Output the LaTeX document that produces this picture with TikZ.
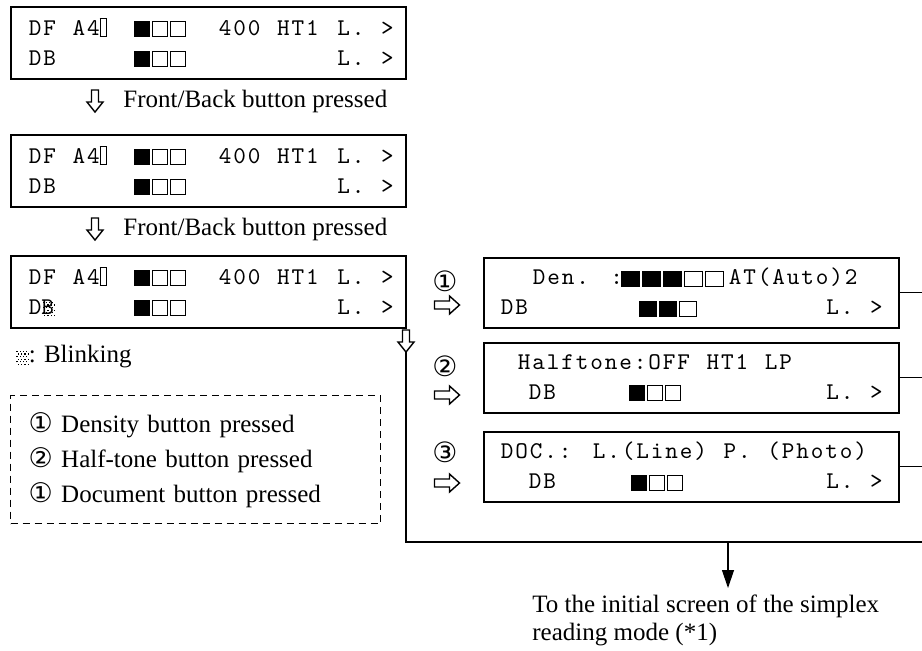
\documentclass[tikz,border=0pt]{standalone}
\usepackage{fontspec}
\setmainfont{Liberation Serif}
\newfontfamily\lcdfont{lmmono10-regular.otf}[LetterSpace=7.9,WordSpace=1.15]
\newfontfamily\symfont{DejaVu Sans}
\usetikzlibrary{arrows.meta,positioning}
\newcommand{\bsq}[1][9pt]{\rule[-1.2pt]{\dimexpr#1-1pt\relax}{8.2pt}\hspace{1pt}}
\newcommand{\wsq}[1][9pt]{{\setlength{\fboxsep}{0pt}\setlength{\fboxrule}{0.6pt}\fbox{\rule[-0.6pt]{0pt}{7pt}\hspace{\dimexpr#1-2.2pt\relax}}}\hspace{1pt}}
\newcommand{\tsq}{{\setlength{\fboxsep}{0pt}\setlength{\fboxrule}{0.6pt}\fbox{\rule[-0.6pt]{0pt}{8.4pt}\hspace{2.6pt}}}}
\newcommand{\dotrow}[1]{\hbox{\hskip#1\rule{0.6pt}{0.6pt}\hskip1pt\rule{0.6pt}{0.6pt}\hskip1pt\rule{0.6pt}{0.6pt}\hskip1pt\rule{0.6pt}{0.6pt}}}
\newcommand{\stip}{\raisebox{-1pt}{\vbox{\offinterlineskip\dotrow{0pt}\vskip0.7pt\dotrow{0.8pt}\vskip0.7pt\dotrow{0pt}\vskip0.7pt\dotrow{0.8pt}\vskip0.7pt\dotrow{0pt}\vskip0.7pt\dotrow{0.8pt}}}}
\newcommand{\blinkB}{\makebox[0pt][l]{B}\hskip0.6pt\stip}
\newcommand{\cnum}[1]{{\symfont\fontsize{13.5}{10}\selectfont#1}}
\newcommand{\lrow}[1]{\hbox to 197.5pt{#1}}
\newcommand{\rrow}[1]{\hbox to 207.5pt{#1}}
\tikzset{hdown/.pic={\draw[line width=0.7pt,line join=miter,fill=white] (-3.5,-11) -- (3.5,-11) -- (3.5,1) -- (8,1) -- (0,11) -- (-8,1) -- (-3.5,1) -- cycle;
           \coordinate (-tip) at (0,11);},
         hright/.pic={\draw[line width=0.7pt,line join=miter] (-12.5,-4) -- (2.5,-4) -- (2.5,-9) -- (12.5,0) -- (2.5,9) -- (2.5,4) -- (-12.5,4) -- cycle;}}

\begin{document}
\begin{tikzpicture}[x=0.5pt,y=-0.5pt,scr/.style={draw,line width=0.8pt,anchor=north west,inner sep=0pt,minimum height=36pt,align=left,font=\lcdfont\fontsize{12}{15}\selectfont},lbl/.style={inner sep=0pt,font=\fontsize{12.5}{14}\selectfont},link/.style={line width=0.6pt},arr/.style={link,-{Triangle[length=9pt,width=6pt]}}]
\useasboundingbox (0,0) rectangle (922,650);
\node[scr] (scr1) at (10,6) {%
  \lrow{\hskip9pt\makebox[52.5pt][l]{DF A4\tsq}\makebox[42.5pt][l]{\bsq\wsq\wsq}400 HT1\hfill L. >\hskip6pt}\\
  \lrow{\hskip9pt\makebox[52.5pt][l]{DB}\makebox[42.5pt][l]{\bsq\wsq\wsq}\hfill L. >\hskip6pt}};
\pic at (95,101) {hdown};
\node[lbl,anchor=west] (fb1) at (123,101) {Front/Back button pressed};
\node[scr] (scr2) at (10,134) {%
  \lrow{\hskip9pt\makebox[52.5pt][l]{DF A4\tsq}\makebox[42.5pt][l]{\bsq\wsq\wsq}400 HT1\hfill L. >\hskip6pt}\\
  \lrow{\hskip9pt\makebox[52.5pt][l]{DB}\makebox[42.5pt][l]{\bsq\wsq\wsq}\hfill L. >\hskip6pt}};
\pic at (95,229) {hdown};
\node[lbl,anchor=west] (fb2) at (123,229) {Front/Back button pressed};
\node[scr] (scr3) at (10,255) {%
  \lrow{\hskip9pt\makebox[52.5pt][l]{DF A4\tsq}\makebox[42.5pt][l]{\bsq\wsq\wsq}400 HT1\hfill L. >\hskip6pt}\\
  \lrow{\hskip9pt\makebox[52.5pt][l]{D\blinkB}\makebox[42.5pt][l]{\bsq\wsq\wsq}\hfill L. >\hskip6pt}};
\node[lbl,anchor=west] (blink) at (16,357) {\stip: Blinking};
\node[draw,dash pattern=on 3.5pt off 2.5pt,line width=0.7pt,anchor=north west,text width=167pt,minimum height=64pt,inner xsep=9pt,align=left,font=\fontsize{12.5}{17.5}\selectfont] (legend) at (10,395) {%
  \cnum{①} Density button pressed\\\cnum{②} Half-tone button pressed\\\cnum{①} Document button pressed};
\node[scr,minimum height=35pt] (den) at (483,257) {%
  \rrow{\hskip24.5pt\makebox[44pt][l]{Den. :}\bsq[10.5pt]\bsq[10.5pt]\bsq[10.5pt]\wsq[10.5pt]\wsq[10.5pt]\hskip1.5pt AT(Auto)2\hfill}\\
  \rrow{\hskip8.5pt\makebox[69pt][l]{DB}\bsq[10pt]\bsq[10pt]\wsq[10pt]\hfill L. >\hskip8pt}};
\node[scr,minimum height=35pt] (half) at (483,342) {%
  \rrow{\hskip17pt Halftone:OFF HT1 LP\hfill}\\
  \rrow{\hskip22.5pt\makebox[50pt][l]{DB}\bsq\wsq\wsq\hfill L. >\hskip8pt}};
\node[scr,minimum height=35pt] (doc) at (483,431) {%
  \rrow{\hskip8.5pt DOC.: L.(Line) P. (Photo)\hfill}\\
  \rrow{\hskip22.5pt\makebox[51pt][l]{DB}\bsq\wsq\wsq\hfill L. >\hskip8pt}};
\node[lbl,font=\symfont\fontsize{14}{14}\selectfont] (c1) at (445,281) {①};
\node[lbl,font=\symfont\fontsize{14}{14}\selectfont] (c2) at (445,366) {②};
\node[lbl,font=\symfont\fontsize{14}{14}\selectfont] (c3) at (445,452) {③};
\pic at (447,305) {hright};
\pic at (447,395) {hright};
\pic at (447,483) {hright};
\pic (drop) at (406,341) {hdown};
\coordinate (rim) at (922,542);
\coordinate (fork) at (728,542);
\draw[link] (drop-tip) |- (rim);
\draw[link] (den.east) -- (den.east -| rim);
\draw[link] (half.east) -- (half.east -| rim);
\draw[link] (doc.east) -- (doc.east -| rim);
\node[lbl,anchor=north west,align=left] (ret) at (532,594) {To the initial screen of the simplex\\reading mode (*1)};
\draw[arr] (fork) -- ([yshift=3pt]fork |- ret.north);
\end{tikzpicture}
\end{document}
